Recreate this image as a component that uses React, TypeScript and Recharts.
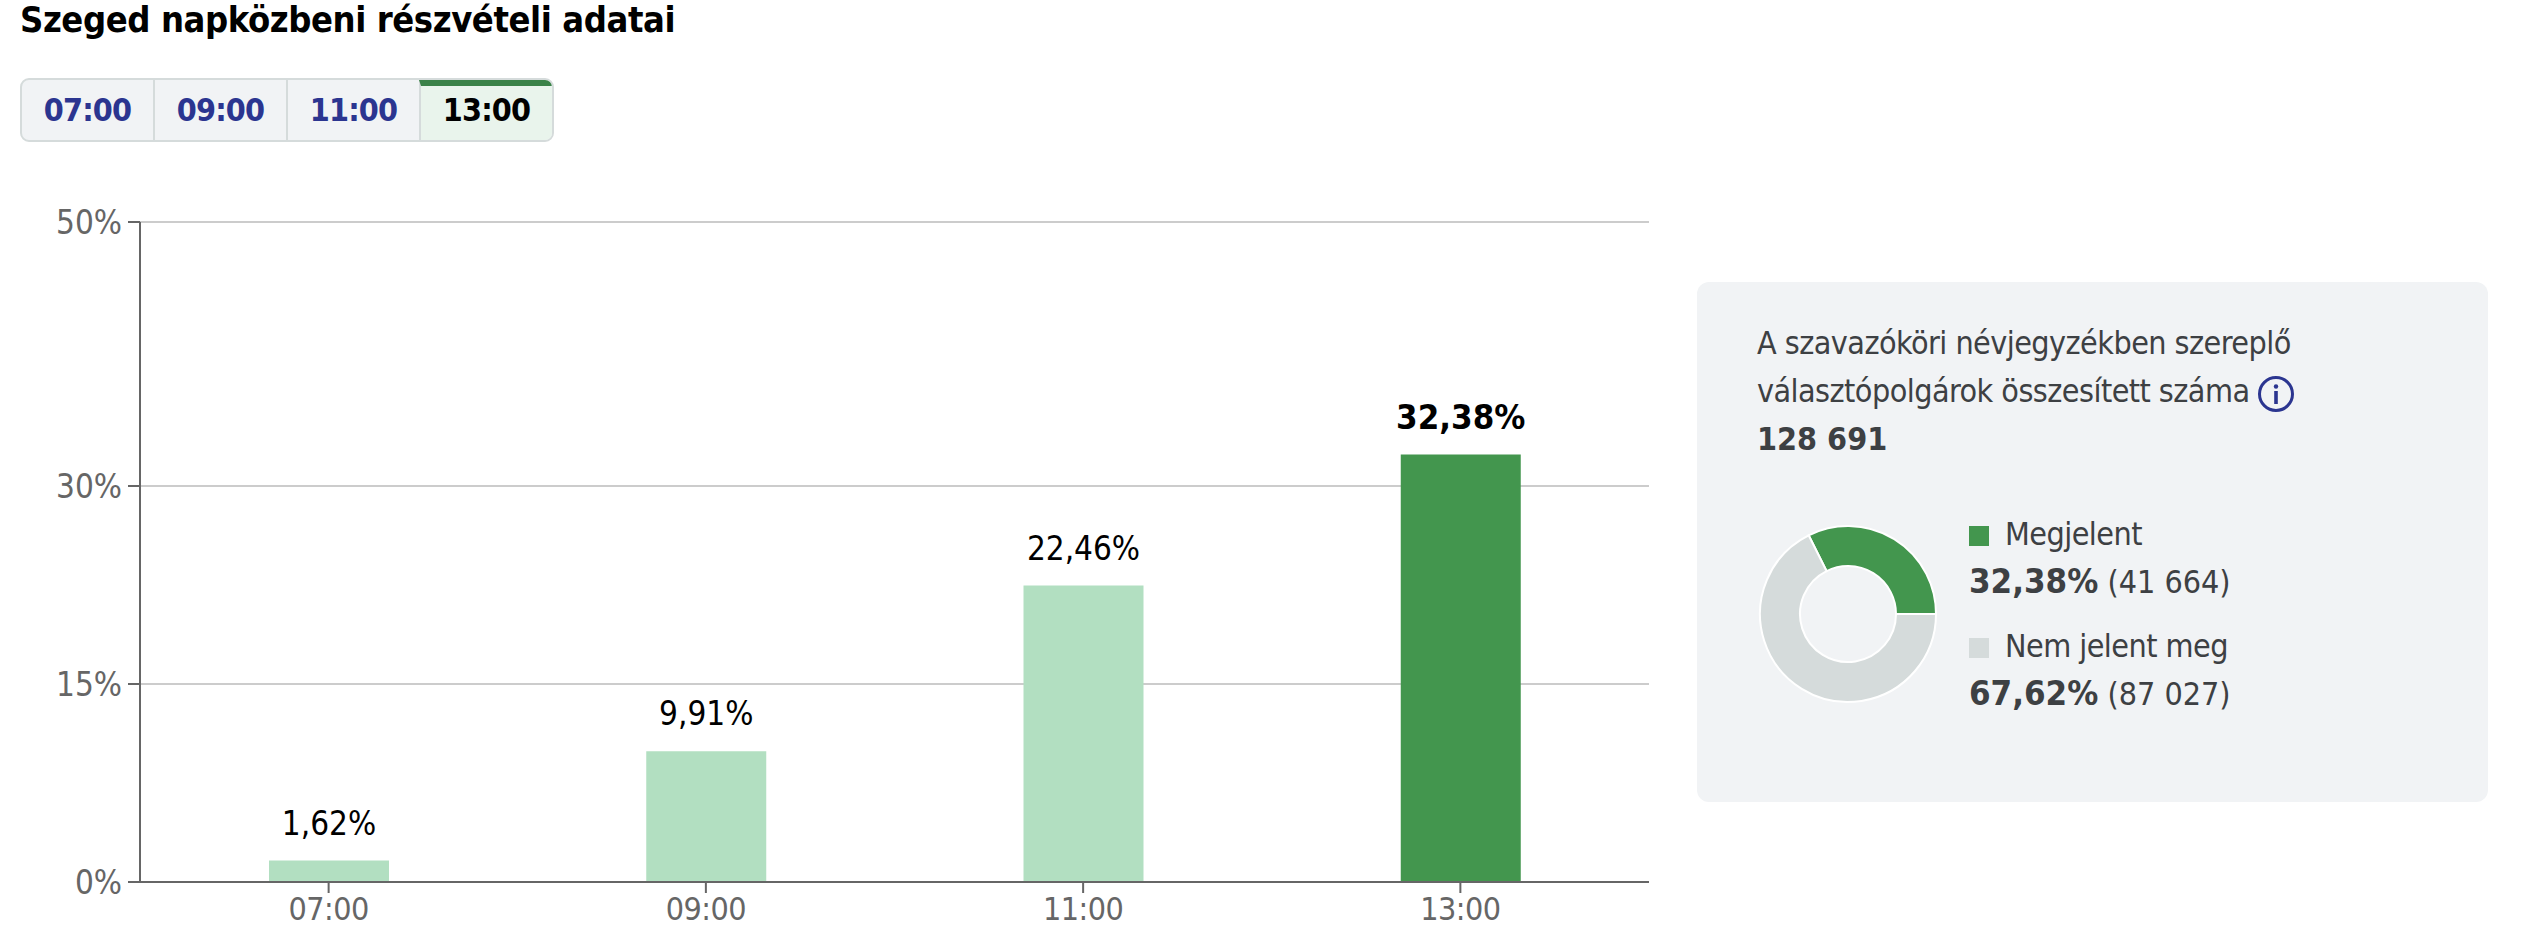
import { BarChart, Bar, Cell, XAxis, YAxis, CartesianGrid, LabelList, PieChart, Pie } from 'recharts';

const FONT = '"DejaVu Sans Condensed", "DejaVu Sans", sans-serif';
const NAVY = '#2b3590';
const DARK = '#3d4043';

const hours = ['07:00', '09:00', '11:00', '13:00'];
const turnout = [1.62, 9.91, 22.46, 32.38];
const yTicks = [0, 15, 30, 50];
const ACTIVE_HOUR = '13:00';

const donutNames = ['Megjelent', 'Nem jelent meg'];
const donutVotes = [41664, 87027];
const donutPercents = ['32,38%', '67,62%'];
const donutCounts = ['(41 664)', '(87 027)'];
const donutColors = ['#43964e', '#d5dbdb'];

const barData = hours.map((hour, i) => ({ hour, value: turnout[i] }));
const donutData = donutNames.map((name, i) => ({ name, value: donutVotes[i] }));

function formatPct(v: number) {
  return `${v.toFixed(2).replace('.', ',')}%`;
}

function BarLabel({ x, y, width, value, index }: any) {
  const active = hours[index] === ACTIVE_HOUR;
  return (
    <text
      x={x + width / 2}
      y={y - 26}
      textAnchor="middle"
      fontFamily={FONT}
      fontSize={active ? 34.5 : 33}
      fontWeight={active ? 700 : 400}
      fill="#000"
    >
      {formatPct(value)}
    </text>
  );
}

function Tabs() {
  return (
    <div
      style={{
        position: 'absolute',
        left: 20,
        top: 78,
        width: 534,
        height: 64,
        boxSizing: 'border-box',
        border: '2px solid #d5dbdb',
        borderRadius: 9,
        display: 'flex',
        overflow: 'hidden',
        background: '#f1f3f5',
      }}
    >
      {hours.map((hour, i) => {
        const active = hour === ACTIVE_HOUR;
        return (
          <div
            key={hour}
            style={{
              flex: 1,
              boxSizing: 'border-box',
              borderLeft: i ? '2px solid #d5dbdb' : 'none',
              borderTop: active ? '6px solid #3a8248' : 'none',
              background: active ? '#e9f4ec' : 'transparent',
              color: active ? '#000' : NAVY,
              fontWeight: 700,
              fontSize: 32,
              letterSpacing: -0.8,
              display: 'flex',
              alignItems: 'center',
              justifyContent: 'center',
              paddingBottom: active ? 6 : 0,
            }}
          >
            {hour}
          </div>
        );
      })}
    </div>
  );
}

function InfoIcon() {
  return (
    <svg width={38} height={38} style={{ position: 'absolute', left: 2257, top: 375 }}>
      <circle cx={19} cy={19} r={16.5} fill="none" stroke={NAVY} strokeWidth={3} />
      <circle cx={19} cy={11.5} r={2.2} fill={NAVY} />
      <rect x={17.2} y={16} width={3.6} height={13} fill={NAVY} />
    </svg>
  );
}

function line(text: string, left: number, baseline: number, bold = false) {
  return (
    <div
      style={{
        position: 'absolute',
        left,
        top: baseline - 36,
        height: 50,
        lineHeight: '50px',
        fontSize: 32,
        letterSpacing: bold ? 0 : -0.55,
        fontWeight: bold ? 700 : 400,
        color: DARK,
        whiteSpace: 'nowrap',
      }}
    >
      {text}
    </div>
  );
}

export default function App() {
  return (
    <div
      style={{
        position: 'absolute',
        left: 0,
        top: 0,
        width: 2532,
        height: 952,
        background: '#fff',
        overflow: 'hidden',
        fontFamily: FONT,
      }}
    >
      <div
        style={{
          position: 'absolute',
          left: 20,
          top: -2,
          fontSize: 36,
          letterSpacing: -0.41,
          lineHeight: '44px',
          fontWeight: 700,
          color: '#000',
          whiteSpace: 'nowrap',
        }}
      >
        Szeged napközbeni részvételi adatai
      </div>

      <Tabs />

      <div style={{ position: 'absolute', left: 0, top: 0 }}>
        <BarChart
          width={1700}
          height={952}
          data={barData}
          margin={{ top: 222, right: 51, bottom: 0, left: 0 }}
          barSize={120}
        >
          <CartesianGrid horizontal vertical={false} stroke="#cccccc" strokeWidth={2} />
          <XAxis
            dataKey="hour"
            height={70}
            stroke="#666666"
            strokeWidth={2}
            tickSize={11}
            tickMargin={4}
            tick={{ fill: '#666666', fontSize: 32, letterSpacing: -0.5, fontFamily: FONT }}
          />
          <YAxis
            width={140}
            domain={[0, 50]}
            ticks={yTicks}
            interval={0}
            tickFormatter={(v: number) => `${v}%`}
            stroke="#666666"
            strokeWidth={2}
            tickSize={12}
            tickMargin={6}
            tick={{ fill: '#666666', fontSize: 33, fontFamily: FONT }}
          />
          <Bar dataKey="value" isAnimationActive={false}>
            {barData.map((d) => (
              <Cell key={d.hour} fill={d.hour === ACTIVE_HOUR ? '#43964e' : '#b2dfc1'} />
            ))}
            <LabelList dataKey="value" content={BarLabel} />
          </Bar>
        </BarChart>
      </div>

      <div
        style={{
          position: 'absolute',
          left: 1697,
          top: 282,
          width: 791,
          height: 520,
          background: '#f1f3f5',
          borderRadius: 12,
        }}
      />
      {line('A szavazóköri névjegyzékben szereplő', 1757, 354)}
      {line('választópolgárok összesített száma', 1757, 402)}
      <InfoIcon />
      {line('128 691', 1757, 450, true)}

      <div style={{ position: 'absolute', left: 1748, top: 514 }}>
        <PieChart width={200} height={200} margin={{ top: 0, right: 0, bottom: 0, left: 0 }}>
          <Pie
            data={donutData}
            dataKey="value"
            cx={100}
            cy={100}
            outerRadius={88}
            innerRadius={48}
            startAngle={0}
            endAngle={360}
            stroke="#ffffff"
            strokeWidth={2}
            isAnimationActive={false}
          >
            {donutData.map((d, i) => (
              <Cell key={d.name} fill={donutColors[i]} />
            ))}
          </Pie>
        </PieChart>
      </div>

      {donutNames.map((name, i) => {
        const dy = i * 112;
        return (
          <div key={name}>
            <div
              style={{
                position: 'absolute',
                left: 1969,
                top: 526 + dy,
                width: 20,
                height: 20,
                background: donutColors[i],
              }}
            />
            {line(name, 2005, 545 + dy)}
            <div
              style={{
                position: 'absolute',
                left: 1969,
                top: 594 + dy - 38,
                height: 50,
                lineHeight: '50px',
                fontSize: 32,
                color: DARK,
                whiteSpace: 'nowrap',
              }}
            >
              <b style={{ fontSize: 34.5 }}>{donutPercents[i]}</b> {donutCounts[i]}
            </div>
          </div>
        );
      })}
    </div>
  );
}
